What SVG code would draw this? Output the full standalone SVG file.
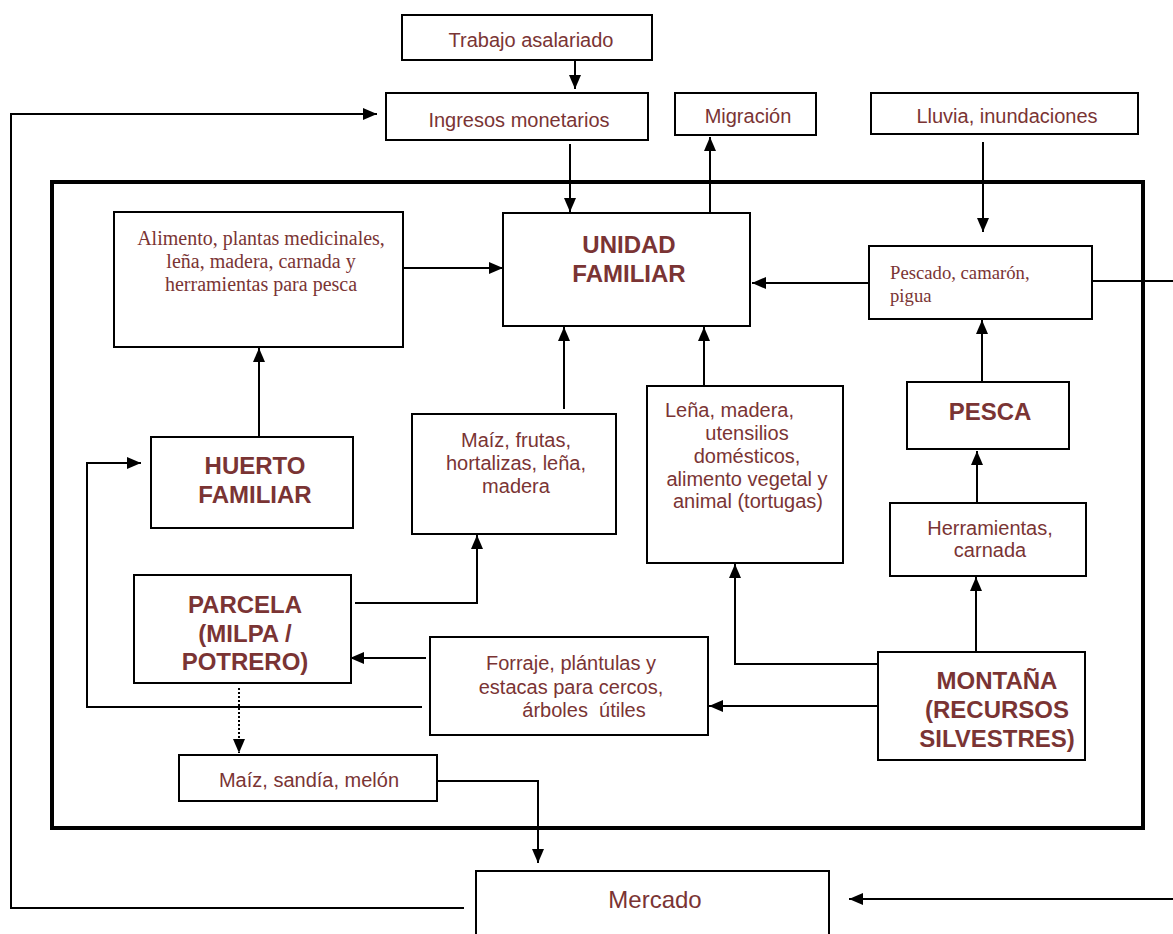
<svg xmlns="http://www.w3.org/2000/svg" width="1173" height="934" viewBox="0 0 1173 934">
<defs>
<style>
.box{fill:#fff;stroke:#000;stroke-width:2}
.frame{fill:none;stroke:#000;stroke-width:4}
.t{font-family:"Liberation Sans",Arial,sans-serif;font-size:20px;fill:#7a3434;text-anchor:middle}
.s{font-family:"Liberation Serif","Times New Roman",serif;font-size:20px;fill:#7a3434;text-anchor:middle}
.b{font-family:"Liberation Sans",Arial,sans-serif;font-size:24px;font-weight:bold;fill:#7a3434;text-anchor:middle}
.c{fill:none;stroke:#000;stroke-width:2}
</style>
<marker id="ah" markerWidth="14" markerHeight="12" refX="14" refY="6" orient="auto" markerUnits="userSpaceOnUse"><path d="M0,0 L14,6 L0,12 z" fill="#000"/></marker>
</defs>
<rect width="1173" height="934" fill="#fff"/>
<rect class="frame" x="52" y="182" width="1091" height="646"/>
<g id="connectors">
<path class="c" d="M575,60 V89" marker-end="url(#ah)"/>
<path class="c" d="M570,144 V212" marker-end="url(#ah)"/>
<path class="c" d="M710,213 V137" marker-end="url(#ah)"/>
<path class="c" d="M983,142 V232" marker-end="url(#ah)"/>
<path class="c" d="M868,283 H752" marker-end="url(#ah)"/>
<path class="c" d="M1092,281 H1173"/>
<path class="c" d="M1173,899 H849" marker-end="url(#ah)"/>
<path class="c" d="M403,268 H503" marker-end="url(#ah)"/>
<path class="c" d="M259,437 V348" marker-end="url(#ah)"/>
<path class="c" d="M564,409 V327" marker-end="url(#ah)"/>
<path class="c" d="M704,386 V327" marker-end="url(#ah)"/>
<path class="c" d="M982,381 V320" marker-end="url(#ah)"/>
<path class="c" d="M977,503 V451" marker-end="url(#ah)"/>
<path class="c" d="M976,652 V577" marker-end="url(#ah)"/>
<path class="c" d="M878,664 H735 V564" marker-end="url(#ah)"/>
<path class="c" d="M878,706 H709" marker-end="url(#ah)"/>
<path class="c" d="M355,603 H477 V535" marker-end="url(#ah)"/>
<path class="c" d="M426,658 H350" marker-end="url(#ah)"/>
<path class="c" d="M422,707 H87 V463 H141" marker-end="url(#ah)"/>
<path class="c" d="M239,688 V753" stroke-dasharray="2,2" marker-end="url(#ah)"/>
<path class="c" d="M437,781 H538 V863" marker-end="url(#ah)"/>
<path class="c" d="M464,908 H11 V114 H377" marker-end="url(#ah)"/>
</g>
<g id="trabajo"><rect class="box" x="402" y="15" width="250" height="45"/><text class="t" x="531" y="47">Trabajo asalariado</text></g>
<g id="ingresos"><rect class="box" x="386" y="93" width="262" height="47"/><text class="t" x="519" y="127">Ingresos monetarios</text></g>
<g id="migracion"><rect class="box" x="675" y="93" width="141" height="42"/><text class="t" x="748" y="123">Migración</text></g>
<g id="lluvia"><rect class="box" x="871" y="93" width="267" height="41"/><text class="t" x="1007" y="123">Lluvia, inundaciones</text></g>
<g id="alimento"><rect class="box" x="114" y="212" width="289" height="135"/>
<text class="s" x="261" y="245">Alimento, plantas medicinales,</text>
<text class="s" x="261" y="268">leña, madera, carnada y</text>
<text class="s" x="261" y="291">herramientas para pesca</text></g>
<g id="unidad"><rect class="box" x="503" y="213" width="247" height="113"/>
<text class="b" x="629" y="253">UNIDAD</text><text class="b" x="629" y="282">FAMILIAR</text></g>
<g id="pescado"><rect class="box" x="869" y="246" width="223" height="73"/>
<text class="s" x="890" y="279" style="text-anchor:start;font-size:18.7px">Pescado, camarón,</text>
<text class="s" x="890" y="302" style="text-anchor:start;font-size:18.7px">pigua</text></g>
<g id="huerto"><rect class="box" x="151" y="437" width="202" height="91"/>
<text class="b" x="255" y="474">HUERTO</text><text class="b" x="255" y="503">FAMILIAR</text></g>
<g id="maiz-frutas"><rect class="box" x="412" y="414" width="204" height="120"/>
<text class="t" x="516" y="447">Maíz, frutas,</text>
<text class="t" x="516" y="470">hortalizas, leña,</text>
<text class="t" x="516" y="493">madera</text></g>
<g id="lena"><rect class="box" x="647" y="386" width="196" height="177"/>
<text class="t" x="665" y="417" style="text-anchor:start">Leña, madera,</text>
<text class="t" x="747" y="440">utensilios</text>
<text class="t" x="747" y="463">domésticos,</text>
<text class="t" x="747" y="486">alimento vegetal y</text>
<text class="t" x="748" y="508">animal (tortugas)</text></g>
<g id="pesca"><rect class="box" x="907" y="382" width="162" height="67"/><text class="b" x="990" y="420">PESCA</text></g>
<g id="herramientas"><rect class="box" x="890" y="503" width="196" height="73"/>
<text class="t" x="990" y="535">Herramientas,</text><text class="t" x="990" y="557">carnada</text></g>
<g id="parcela"><rect class="box" x="134" y="575" width="217" height="108"/>
<text class="b" x="245" y="613">PARCELA</text><text class="b" x="245" y="642">(MILPA /</text><text class="b" x="245" y="670">POTRERO)</text></g>
<g id="forraje"><rect class="box" x="430" y="637" width="278" height="98"/>
<text class="t" x="571" y="670">Forraje, plántulas y</text>
<text class="t" x="571" y="694">estacas para cercos,</text>
<text class="t" x="584" y="717" style="white-space:pre">árboles  útiles</text></g>
<g id="montana"><rect class="box" x="878" y="652" width="207" height="108"/>
<text class="b" x="997" y="689">MONTAÑA</text><text class="b" x="997" y="718">(RECURSOS</text><text class="b" x="997" y="747">SILVESTRES)</text></g>
<g id="maiz-sandia"><rect class="box" x="179" y="755" width="258" height="46"/><text class="t" x="309" y="787">Maíz, sandía, melón</text></g>
<g id="mercado"><rect class="box" x="476" y="871" width="353" height="80"/><text class="t" x="655" y="908" style="font-size:24px">Mercado</text></g>
</svg>
